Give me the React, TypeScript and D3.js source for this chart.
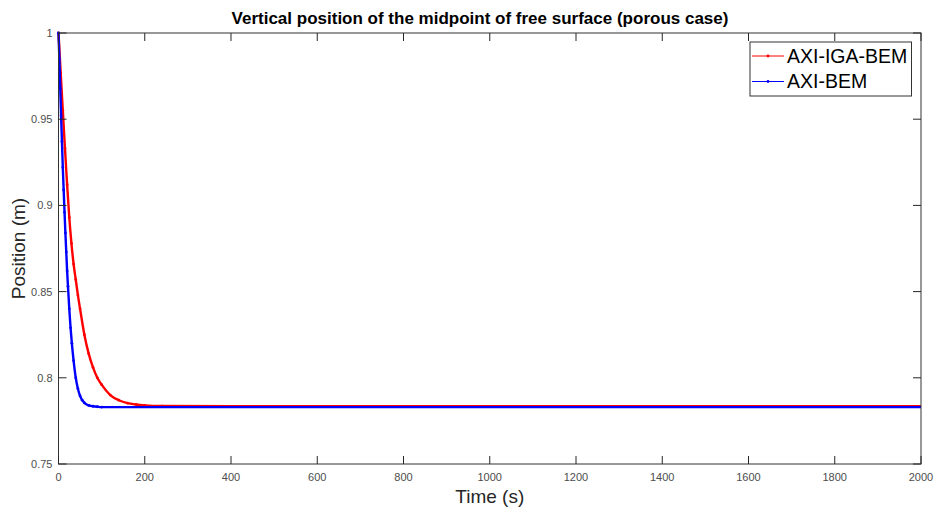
import * as d3 from 'd3';

const W = 934;
const H = 510;
const margin = { top: 33, right: 13, bottom: 46, left: 58.5 };

const igaTime = [0, 5, 10, 15, 20, 25, 30, 35, 40, 45, 50, 60, 70, 80, 90, 100, 120, 140, 160, 180, 200, 240, 400, 800, 1200, 1600, 2000];
const igaPos = [1.0, 0.977, 0.955, 0.933, 0.912, 0.893, 0.878, 0.866, 0.857, 0.848, 0.84, 0.825, 0.814, 0.806, 0.8, 0.796, 0.79, 0.787, 0.7853, 0.7845, 0.784, 0.7836, 0.7835, 0.7835, 0.7835, 0.7835, 0.7835];

const bemTime = [0, 2, 4, 6, 8, 10, 12, 14, 16, 18, 20, 22, 25, 28, 31, 35, 40, 45, 50, 55, 60, 70, 80, 90, 100, 400, 800, 1200, 1600, 2000];
const bemPos = [1.0, 0.985, 0.968, 0.952, 0.937, 0.922, 0.909, 0.896, 0.884, 0.873, 0.862, 0.853, 0.84, 0.829, 0.82, 0.81, 0.8, 0.7937, 0.7895, 0.787, 0.7855, 0.784, 0.7835, 0.7832, 0.783, 0.783, 0.783, 0.783, 0.783, 0.783];

const xTicks = [0, 200, 400, 600, 800, 1000, 1200, 1400, 1600, 1800, 2000];
const yTicks = [0.75, 0.8, 0.85, 0.9, 0.95, 1];

const series = [
  { name: 'AXI-IGA-BEM', color: '#ff0000', t: igaTime, v: igaPos },
  { name: 'AXI-BEM', color: '#0000ff', t: bemTime, v: bemPos },
];

const font = "'Liberation Sans', Arial, Helvetica, sans-serif";
const axisColor = '#262626';
const tickColor = '#4d4d4d';

export default function App() {
  const x = d3.scaleLinear().domain([0, 2000]).range([margin.left, W - margin.right]);
  const y = d3.scaleLinear().domain([0.75, 1]).range([H - margin.bottom, margin.top]);
  const x0 = x.range()[0];
  const x1 = x.range()[1];
  const y0 = y.range()[0];
  const y1 = y.range()[1];
  const tl = 8;

  const line = d3
    .line<[number, number]>()
    .x((d) => x(d[0]))
    .y((d) => y(d[1]))
    .curve(d3.curveMonotoneX);

  return (
    <svg
      width={W}
      height={H}
      style={{ position: 'absolute', left: 0, top: 0, background: '#fff' }}
      fontFamily={font}
    >
      <rect x={0} y={0} width={W} height={H} fill="#fff" />
      <text x={480} y={24} textAnchor="middle" fontSize={17} fontWeight="bold" fill="#000">
        Vertical position of the midpoint of free surface (porous case)
      </text>

      <g>
        {series.map((s) => {
          const pts = s.t.map((t, i) => [t, s.v[i]] as [number, number]);
          return (
            <g key={s.name}>
              <path d={line(pts) ?? ''} fill="none" stroke={s.color} strokeWidth={2.4} />
              {pts
                .filter((p) => p[0] < 300)
                .map((p, i) => (
                  <circle key={i} cx={x(p[0])} cy={y(p[1])} r={1.4} fill={s.color} />
                ))}
            </g>
          );
        })}
      </g>

      <g stroke={axisColor} strokeWidth={1} fill="none">
        <rect x={x0} y={y1} width={x1 - x0} height={y0 - y1} stroke="#333" />
        {xTicks.map((t) => (
          <g key={'x' + t}>
            <line x1={x(t)} x2={x(t)} y1={y0} y2={y0 - tl} />
            <line x1={x(t)} x2={x(t)} y1={y1} y2={y1 + tl} />
          </g>
        ))}
        {yTicks.map((t) => (
          <g key={'y' + t}>
            <line x1={x0} x2={x0 + tl} y1={y(t)} y2={y(t)} />
            <line x1={x1} x2={x1 - tl} y1={y(t)} y2={y(t)} />
          </g>
        ))}
      </g>

      <g fontSize={11} fill={tickColor}>
        {xTicks.map((t) => (
          <text key={'xl' + t} x={x(t)} y={y0 + 17} textAnchor="middle">
            {t}
          </text>
        ))}
        {yTicks.map((t) => (
          <text key={'yl' + t} x={x0 - 6} y={y(t) + 4} textAnchor="end">
            {t}
          </text>
        ))}
      </g>

      <text x={(x0 + x1) / 2} y={503} textAnchor="middle" fontSize={19} fill={axisColor}>
        Time (s)
      </text>
      <text
        transform={`translate(25, ${(y0 + y1) / 2}) rotate(-90)`}
        textAnchor="middle"
        fontSize={19}
        fill={axisColor}
      >
        Position (m)
      </text>

      <g>
        <rect x={750} y={42} width={161.5} height={54} fill="#fff" stroke="#333" strokeWidth={1} />
        {series.map((s, i) => (
          <g key={s.name} transform={`translate(0, ${56 + i * 25.5})`}>
            <line x1={752} x2={784} y1={0} y2={0} stroke={s.color} strokeWidth={1} />
            <circle cx={768} cy={0} r={1.4} fill={s.color} />
            <text x={787} y={6.5} fontSize={19.5} fill="#000">
              {s.name}
            </text>
          </g>
        ))}
      </g>
    </svg>
  );
}
